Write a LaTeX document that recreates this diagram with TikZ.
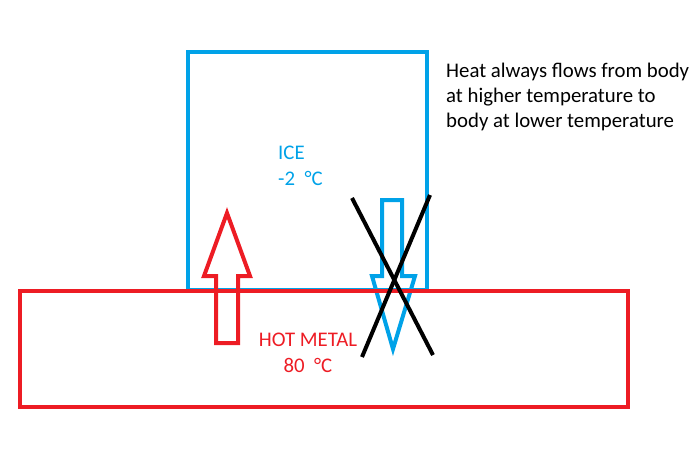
\documentclass[tikz,border=0pt]{standalone}
\usepackage{fontspec}
\setmainfont{Carlito}
\definecolor{iceblue}{RGB}{0,162,232}
\definecolor{hotred}{RGB}{237,28,36}
\begin{document}
\begin{tikzpicture}[x=1pt,y=-1pt,
  box/.style={line width=4pt, line join=miter},
  arrowshape/.style={line width=4pt, line join=miter, miter limit=10},
  lbl/.style={inner sep=0pt, font=\fontsize{20.8}{25.5}\selectfont},
  cross/.style={line width=4pt, black}]
\useasboundingbox (0,0) rectangle (699,453);
% ice block
\node[draw=iceblue, box, minimum width=239pt, minimum height=238pt, inner sep=0pt, anchor=north west] (ice) at (186,50) {};
% down arrow (blue)
\draw[iceblue, arrowshape] (382,200) -- (402,200) -- (402,276) -- (415,276) -- (393,349) -- (372,276) -- (382,276) -- cycle;
% hot metal
\node[draw=hotred, box, minimum width=608pt, minimum height=116pt, inner sep=0pt, anchor=north west] (metal) at (18,289) {};
% up arrow (red)
\draw[hotred, arrowshape] (216,343) -- (216,276) -- (204,276) -- (227,213) -- (250,276) -- (238,276) -- (238,343) -- cycle;
% cross
\coordinate (c1) at (352,198);
\coordinate (c2) at (433,355);
\coordinate (c3) at (430,195);
\coordinate (c4) at (362,357);
\draw[cross] (c1) -- (c2);
\draw[cross] (c3) -- (c4);
% labels
\node[lbl, text=iceblue, anchor=base west] (icel1) at (278,159) {ICE};
\node[lbl, text=iceblue, anchor=base west] (icel2) at (278,185) {-2\ \ °C};
\node[lbl, text=hotred, anchor=base] (hm1) at (308,346) {HOT METAL};
\node[lbl, text=hotred, anchor=base] (hm2) at (308,372) {80\ \ °C};
\node[lbl, anchor=base west] (t1) at (446,77) {Heat always flows from body};
\node[lbl, anchor=base west] (t2) at (446,102) {at higher temperature to};
\node[lbl, anchor=base west] (t3) at (446,127) {body at lower temperature};
\end{tikzpicture}
\end{document}
